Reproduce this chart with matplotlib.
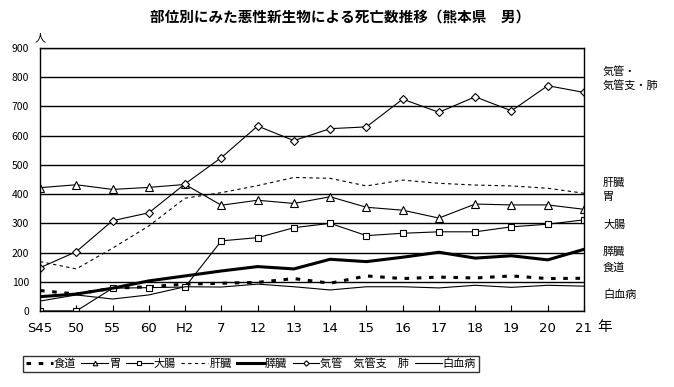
import matplotlib
matplotlib.use("Agg")
import matplotlib.pyplot as plt

plt.rcParams['font.family'] = ['Noto Sans CJK JP', 'DejaVu Sans']

years = ['S45', '50', '55', '60', 'H2', '7', '12', '13', '14', '15', '16', '17', '18', '19', '20', '21']
shokudo = [70, 58, 78, 83, 92, 95, 98, 111, 95, 120, 111, 116, 113, 120, 111, 112]
i_stomach = [422, 432, 416, 423, 433, 362, 379, 368, 391, 355, 345, 318, 366, 363, 363, 348]
daicho = [0, 0, 78, 80, 82, 240, 251, 285, 300, 258, 266, 271, 271, 288, 297, 312]
kanzo = [169, 144, 215, 291, 386, 405, 429, 457, 454, 428, 448, 437, 431, 428, 420, 403]
suizo = [49, 58, 78, 103, 120, 137, 152, 144, 177, 169, 184, 201, 181, 189, 175, 211]
kikan = [148, 203, 309, 336, 435, 525, 633, 583, 624, 630, 725, 680, 733, 685, 771, 748]
hakketsu = [34, 55, 41, 55, 83, 82, 92, 83, 72, 83, 83, 79, 88, 81, 88, 85]

series_names = ['食道', '胃', '大腸', '肝臓', '膵臓', '気管　気管支　肺', '白血病']
right_labels = [('気管・', 72), ('気管支・肺', 86), ('肝臓', 183), ('胃', 197),
                ('大腸', 225), ('膵臓', 252), ('食道', 268), ('白血病', 295)]

W, H = 674, 387
fig = plt.figure(figsize=(W / 100, H / 100), dpi=100)
ax = fig.add_axes([40 / W, 1 - 311 / H, (584 - 40) / W, (311 - 48) / H])

x = list(range(len(years)))
handles = []
h, = ax.plot(x, shokudo, color='black', lw=2.2, ls=(0, (1.5, 2.5)))
handles.append(h)
h, = ax.plot(x, i_stomach, color='black', lw=0.8, marker='^', ms=5.5, mfc='white', mec='black', mew=0.8)
handles.append(h)
h, = ax.plot(x, daicho, color='black', lw=0.8, marker='s', ms=5, mfc='white', mec='black', mew=0.8)
handles.append(h)
h, = ax.plot(x, kanzo, color='black', lw=0.8, ls=(0, (3, 3)))
handles.append(h)
h, = ax.plot(x, suizo, color='black', lw=2.2)
handles.append(h)
h, = ax.plot(x, kikan, color='black', lw=0.8, marker='D', ms=4.5, mfc='white', mec='black', mew=0.8)
handles.append(h)
h, = ax.plot(x, hakketsu, color='black', lw=0.8)
handles.append(h)

ax.set_xlim(0, len(years) - 1)
ax.set_ylim(0, 900)
ax.set_yticks(range(0, 901, 100))
ax.yaxis.grid(True, color='black', lw=1)
ax.set_axisbelow(True)
ax.set_xticks(x)
ax.set_xticklabels(years, fontsize=9.5, family=['DejaVu Sans'])
ax.tick_params(axis='x', direction='in', length=4, pad=8, width=0.8)
ax.tick_params(axis='y', length=0, pad=8, labelsize=7.5)
for s in ax.spines.values():
    s.set_color('black')
    s.set_linewidth(1)

fig.text(340 / W, 1 - 18 / H, '部位別にみた悪性新生物による死亡数推移（熊本県　男）',
         ha='center', va='center', fontsize=10.5, fontweight='bold')
fig.text(40 / W, 1 - 38 / H, '人', ha='center', va='center', fontsize=8)
fig.text(605 / W, 1 - 327 / H, '年', ha='center', va='center', fontsize=10.5)
for lab, yy in right_labels:
    fig.text(603 / W, 1 - yy / H, lab, ha='left', va='center', fontsize=8)

leg = fig.legend(handles, series_names, loc='center', ncol=7,
                 bbox_to_anchor=(251 / W, 1 - 364 / H), frameon=True, fancybox=False,
                 edgecolor='black', fontsize=8, handlelength=2.4, handletextpad=0.1,
                 columnspacing=0.5, borderpad=0.25, markerscale=0.6, borderaxespad=0)
leg.get_frame().set_linewidth(1)

fig.savefig('out.png', dpi=100)
